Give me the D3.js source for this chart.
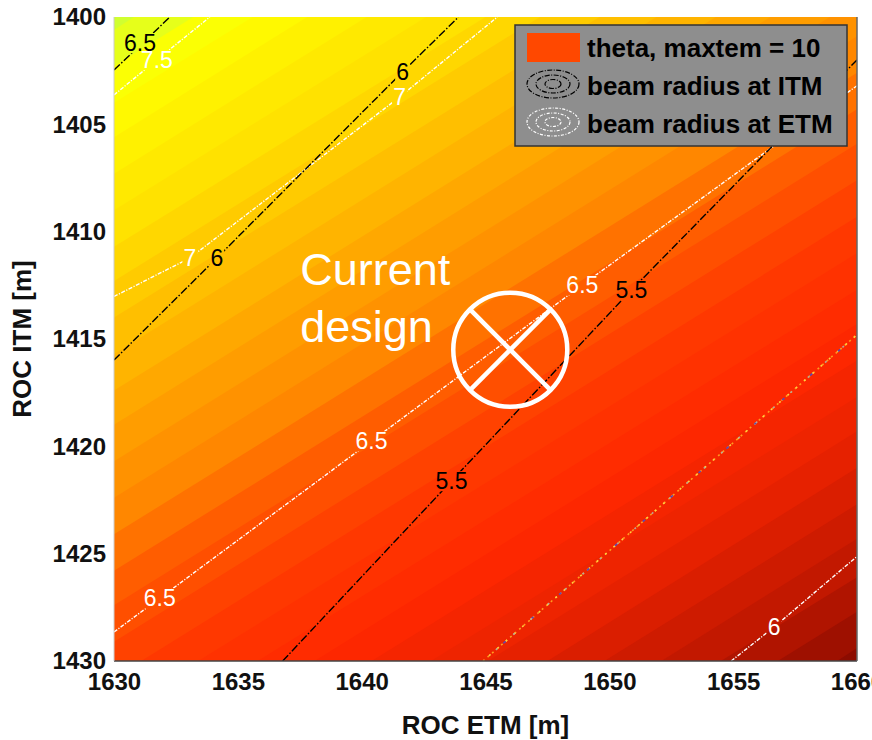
<!DOCTYPE html>
<html>
<head>
<meta charset="utf-8">
<script src="https://cdn.jsdelivr.net/npm/d3@7"></script>
<style>
body { margin: 0; background: #fff; }
text { font-family: "Liberation Sans", Arial, sans-serif; }
</style>
</head>
<body>
<svg id="chart" width="872" height="740"></svg>
<script>
// axis ticks
var etmTicks = [1630, 1635, 1640, 1645, 1650, 1655, 1660];
var itmTicks = [1400, 1405, 1410, 1415, 1420, 1425, 1430];

// theta band edges, top-left to bottom-right: [etm1, itm1, etm2, itm2]
var thetaEdges = [
	[1630, 1400.6, 1630.8, 1400], [1630, 1402.3, 1633.2, 1400], [1630, 1404.0, 1635.6, 1400],
	[1630, 1405.6, 1637.8, 1400], [1630, 1407.3, 1640.2, 1400], [1630, 1409.0, 1642.6, 1400],
	[1630, 1410.7, 1645.0, 1400], [1630, 1412.3, 1647.2, 1400], [1630, 1414.0, 1649.6, 1400],
	[1630, 1415.7, 1651.9, 1400], [1630, 1417.4, 1654.3, 1400], [1630, 1419.0, 1656.5, 1400],
	[1630, 1420.7, 1658.9, 1400], [1630, 1422.4, 1660, 1400.9], [1630, 1424.1, 1660, 1402.6],
	[1630, 1425.8, 1660, 1404.3], [1630, 1427.4, 1660, 1405.9], [1630, 1429.1, 1660, 1407.6],
	[1631.1, 1430, 1660, 1409.3], [1633.4, 1430, 1660, 1411.0], [1635.8, 1430, 1660, 1412.7],
	[1638.1, 1430, 1660, 1414.3], [1640.4, 1430, 1660, 1416.0], [1642.8, 1430, 1660, 1417.7],
	[1645.1, 1430, 1660, 1419.3], [1647.5, 1430, 1660, 1421.0], [1649.8, 1430, 1660, 1422.7],
	[1652.1, 1430, 1660, 1424.3], [1654.5, 1430, 1660, 1426.1], [1656.8, 1430, 1660, 1427.7],
	[1659.2, 1430, 1660, 1429.4]
];

// colour of each band by its position (0 = top-left, 1 = bottom-right)
var colorStops = [
	[0.00, "#d0ff30"], [0.07, "#ffff00"], [0.20, "#ffe000"], [0.35, "#ffaa00"],
	[0.45, "#ff8800"], [0.52, "#ff5a00"], [0.60, "#ff3a00"], [0.70, "#ff2800"],
	[0.80, "#e82200"], [0.90, "#c41800"], [1.00, "#8c0c00"]
];

// beam radius at ITM (black), level and polyline [etm, itm]
var itmLines = [
	{level: 6.5, pts: [[1630, 1402.47], [1632.26, 1400]]},
	{level: 6, pts: [[1630, 1415.98], [1634.15, 1411.23], [1641.65, 1402.56], [1643.91, 1400]]},
	{level: 5.5, pts: [[1636.81, 1430], [1643.63, 1421.61], [1650.89, 1412.72], [1660, 1402.0]]}
];
var itmLabels = [
	{text: "6.5", x: 1631.05, y: 1401.21}, {text: "6", x: 1641.65, y: 1402.56},
	{text: "6", x: 1634.15, y: 1411.23}, {text: "5.5", x: 1650.89, y: 1412.72},
	{text: "5.5", x: 1643.63, y: 1421.61}
];

// beam radius at ETM (white)
var etmLines = [
	{level: 7.5, pts: [[1630, 1403.63], [1631.73, 1402.0], [1633.87, 1400]]},
	{level: 7, pts: [[1630, 1413.02], [1633.06, 1411.23], [1641.53, 1403.73], [1645.48, 1400]]},
	{level: 6.5, pts: [[1630, 1428.65], [1631.85, 1427.07], [1640.40, 1419.75], [1648.91, 1412.48], [1660, 1403.2]]},
	{level: 6, pts: [[1654.92, 1430], [1656.65, 1428.42], [1660, 1425.13]]}
];
var etmLabels = [
	{text: "7.5", x: 1631.73, y: 1402.0}, {text: "7", x: 1641.53, y: 1403.73},
	{text: "7", x: 1633.06, y: 1411.23}, {text: "6.5", x: 1648.91, y: 1412.48},
	{text: "6.5", x: 1640.40, y: 1419.75}, {text: "6.5", x: 1631.85, y: 1427.07},
	{text: "6", x: 1656.65, y: 1428.42}
];

// stray multicoloured contour
var strayLine = [[1644.9, 1430], [1660, 1414.8]];

var designPoint = {etm: 1646, itm: 1415.5};

var legendItems = ["theta, maxtem = 10", "beam radius at ITM", "beam radius at ETM"];

var svg = d3.select("#chart");
var defs = svg.append("defs");
var x = d3.scaleLinear().domain([1630, 1660]).range([114, 857]);
var y = d3.scaleLinear().domain([1400, 1430]).range([17, 661]);
var x0 = x.range()[0], x1 = x.range()[1], y0 = y.range()[0], y1 = y.range()[1];

defs.append("clipPath").attr("id", "plotClip")
	.append("rect").attr("x", x0).attr("y", y0).attr("width", x1 - x0).attr("height", y1 - y0);

var bandColor = d3.scaleLinear()
	.domain(colorStops.map(function(d) { return d[0]; }))
	.range(colorStops.map(function(d) { return d[1]; }));
var nBands = thetaEdges.length + 1;

var plot = svg.append("g").attr("clip-path", "url(#plotClip)");

// darkest band underneath, then paint the top-left side of each edge
plot.append("rect").attr("x", x0).attr("y", y0).attr("width", x1 - x0).attr("height", y1 - y0)
	.attr("fill", bandColor(1));

function halfPlane(e) {
	var p1 = [x(e[0]), y(e[1])], p2 = [x(e[2]), y(e[3])];
	var len = Math.hypot(p2[0] - p1[0], p2[1] - p1[1]);
	var dx = (p2[0] - p1[0]) / len, dy = (p2[1] - p1[1]) / len;
	var nx = dy, ny = -dx, big = 3000;
	var a = [p1[0] - dx * big, p1[1] - dy * big], b = [p2[0] + dx * big, p2[1] + dy * big];
	return [a, b, [b[0] + nx * big, b[1] + ny * big], [a[0] + nx * big, a[1] + ny * big]];
}

for (var k = thetaEdges.length - 1; k >= 0; k--) {
	plot.append("path")
		.attr("d", "M" + halfPlane(thetaEdges[k]).join("L") + "Z")
		.attr("fill", bandColor(k / (nBands - 1)));
}

var line = d3.line().x(function(d) { return x(d[0]); }).y(function(d) { return y(d[1]); });

// stray dotted line
[["#ff9a20", "2,4", 0], ["#ffd040", "2,9", 3], ["#5a48b8", "3,34", 10], ["#b8a898", "2,21", 6]].forEach(function(s) {
	plot.append("path").attr("d", line(strayLine)).attr("fill", "none")
		.attr("stroke", s[0]).attr("stroke-width", 1.6)
		.attr("stroke-dasharray", s[1]).attr("stroke-dashoffset", s[2]);
});

function drawContours(lines, labels, color, dash, id) {
	var labelG = plot.append("g");
	labelG.selectAll("text").data(labels).enter().append("text")
		.attr("x", function(d) { return x(d.x); })
		.attr("y", function(d) { return y(d.y); })
		.attr("dy", "0.36em")
		.attr("text-anchor", "middle")
		.attr("font-size", 23)
		.attr("fill", color)
		.text(function(d) { return d.text; });

	// break the lines where the labels sit
	var mask = defs.append("mask").attr("id", id).attr("maskUnits", "userSpaceOnUse")
		.attr("x", 0).attr("y", 0).attr("width", 872).attr("height", 740);
	mask.append("rect").attr("width", 872).attr("height", 740).attr("fill", "#fff");
	labelG.selectAll("text").each(function() {
		var b = this.getBBox();
		mask.append("rect").attr("x", b.x - 1).attr("y", b.y + 3)
			.attr("width", b.width + 2).attr("height", b.height - 6).attr("fill", "#000");
	});

	plot.append("g").attr("mask", "url(#" + id + ")")
		.selectAll("path").data(lines).enter().append("path")
		.attr("d", function(d) { return line(d.pts); })
		.attr("fill", "none")
		.attr("stroke", color)
		.attr("stroke-width", 1.4)
		.attr("stroke-dasharray", dash);
}

drawContours(etmLines, etmLabels, "#fff", "4,1.5,1.2,1.5", "etmMask");
drawContours(itmLines, itmLabels, "#000", "8,2,1.5,2", "itmMask");

// axes frame
svg.append("line").attr("x1", x0).attr("x2", x1).attr("y1", y1).attr("y2", y1)
	.attr("stroke", "#444").attr("stroke-width", 1.5);
svg.append("line").attr("x1", x1).attr("x2", x1).attr("y1", y0).attr("y2", y1)
	.attr("stroke", "#666").attr("stroke-width", 1.5);
svg.append("line").attr("x1", x0).attr("x2", x0).attr("y1", y0).attr("y2", y1)
	.attr("stroke", "#ccc").attr("stroke-width", 1);

var xAxis = svg.append("g").attr("transform", "translate(0," + y1 + ")")
	.call(d3.axisBottom(x).tickValues(etmTicks).tickSize(0).tickPadding(12).tickFormat(d3.format("d")));
var yAxis = svg.append("g").attr("transform", "translate(" + x0 + ",0)")
	.call(d3.axisLeft(y).tickValues(itmTicks).tickSize(0).tickPadding(8).tickFormat(d3.format("d")));
[xAxis, yAxis].forEach(function(a) {
	a.select(".domain").remove();
	a.selectAll("text").attr("font-family", "'Liberation Sans', Arial, sans-serif")
		.attr("font-size", 24).attr("font-weight", "bold").attr("fill", "#111");
});

svg.append("text").attr("x", (x0 + x1) / 2).attr("y", 734)
	.attr("text-anchor", "middle").attr("font-size", 26).attr("font-weight", "bold").attr("fill", "#111")
	.text("ROC ETM [m]");
svg.append("text").attr("transform", "translate(31," + (y0 + y1) / 2 + ") rotate(-90)")
	.attr("text-anchor", "middle").attr("font-size", 26).attr("font-weight", "bold").attr("fill", "#111")
	.text("ROC ITM [m]");

// current design marker
var cx = x(designPoint.etm), cy = y(designPoint.itm), r = 57, c = r * Math.SQRT1_2;
var marker = svg.append("g").attr("stroke", "#fff").attr("stroke-width", 4.5).attr("fill", "none");
marker.append("circle").attr("cx", cx).attr("cy", cy).attr("r", r);
marker.append("line").attr("x1", cx - c).attr("y1", cy - c).attr("x2", cx + c).attr("y2", cy + c);
marker.append("line").attr("x1", cx - c).attr("y1", cy + c).attr("x2", cx + c).attr("y2", cy - c);

var note = svg.append("text").attr("font-size", 45).attr("fill", "#fff");
note.append("tspan").attr("x", cx - 210).attr("y", cy - 65).text("Current");
note.append("tspan").attr("x", cx - 210).attr("y", cy - 8).text("design");

// legend
var legend = svg.append("g").attr("transform", "translate(515,25)");
legend.append("rect").attr("width", 332).attr("height", 121)
	.attr("fill", "#8e8e8e").attr("stroke", "#333").attr("stroke-width", 1.5);
legend.append("rect").attr("x", 12).attr("y", 8).attr("width", 53).attr("height", 29).attr("fill", "#ff4800");
[["#000", "5,1.5,1,1.5"], ["#fff", "3,1.5,1,1.5"]].forEach(function(s, i) {
	var g = legend.append("g").attr("transform", "translate(38," + (59 + i * 38) + ")");
	[[26, 14], [17, 9], [8, 4.5]].forEach(function(e) {
		g.append("ellipse").attr("rx", e[0]).attr("ry", e[1]).attr("fill", "none")
			.attr("stroke", s[0]).attr("stroke-width", 1.2).attr("stroke-dasharray", s[1]);
	});
});
legend.selectAll("text.item").data(legendItems).enter().append("text")
	.attr("class", "item")
	.attr("x", 72)
	.attr("y", function(d, i) { return 32 + i * 38; })
	.attr("font-size", 26).attr("font-weight", "bold").attr("fill", "#000")
	.text(function(d) { return d; });
</script>
</body>
</html>
